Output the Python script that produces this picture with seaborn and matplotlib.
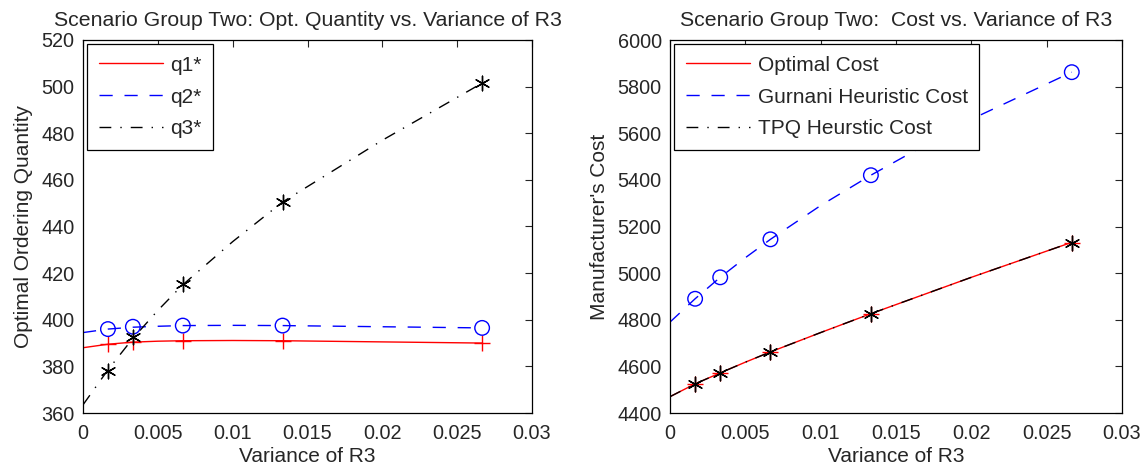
import matplotlib
matplotlib.use("Agg")
import pandas as pd
import seaborn as sns
import matplotlib.pyplot as plt

sns.set_style("white")
plt.rcParams["font.family"] = ["Liberation Sans", "DejaVu Sans"]

# marker positions (variance of R3)
var_pts = [0.001667, 0.003333, 0.006667, 0.013333, 0.026667]
q1_pts = [389.5, 390.5, 391.0, 391.0, 390.0]
q2_pts = [396.0, 397.0, 397.5, 397.5, 396.5]
q3_pts = [378.0, 392.5, 415.5, 450.5, 501.5]
opt_pts = [4525, 4572, 4662, 4826, 5130]
gur_pts = [4890, 4982, 5145, 5420, 5862]
tpq_pts = [4525, 4572, 4662, 4826, 5130]

# fitted curves
var_curve = [0.0, 0.001667, 0.003333, 0.005, 0.006667, 0.01, 0.013333, 0.02, 0.026667]
q1_curve = [388.0, 389.5, 390.4, 390.8, 391.0, 391.1, 391.0, 390.5, 390.0]
q2_curve = [394.5, 396.0, 396.8, 397.2, 397.5, 397.6, 397.5, 397.0, 396.5]
q3_curve = [363.5, 378.5, 392.0, 404.0, 415.0, 433.5, 450.5, 477.0, 501.5]
opt_curve = [4470, 4525, 4572, 4618, 4662, 4745, 4826, 4982, 5132]
gur_curve = [4790, 4890, 4982, 5066, 5145, 5290, 5420, 5660, 5862]
tpq_curve = [4470, 4525, 4572, 4618, 4662, 4745, 4826, 4982, 5132]

fig = plt.figure(figsize=(11.47, 4.73), dpi=100)
W, H = 1147, 473
ax1 = fig.add_axes([83 / W, (H - 413) / H, (532 - 83) / W, (413 - 40) / H])
ax2 = fig.add_axes([670 / W, (H - 413) / H, (1122 - 670) / W, (413 - 40) / H])

tick_fs = 14.3
lab_fs = 15
styles = [("red", None, "+"), ("blue", (9.5, 8.5), "o"), ("black", (8.5, 6.5, 1, 6.5), "*")]


def draw(ax, curves, pts, labels):
    for c, p, lab, (col, dash, mk) in zip(curves, pts, labels, styles):
        sns.lineplot(x=var_curve, y=c, ax=ax, color=col, linewidth=1.0,
                     label=lab, sort=False, estimator=None)
        ln = ax.lines[-1]
        if dash is not None:
            ln.set_dashes(dash)
        if mk == "o":
            sns.scatterplot(x=var_pts, y=p, ax=ax, marker="o", s=110,
                            facecolors="none", edgecolor=col, linewidth=1.0,
                            legend=False, zorder=3)
        elif mk == "+":
            sns.scatterplot(x=var_pts, y=p, ax=ax, marker="+", s=120,
                            color=col, linewidth=1.0, legend=False, zorder=3)
        else:
            sns.scatterplot(x=var_pts, y=p, ax=ax, marker=(6, 2, 0), s=110,
                            color=col, linewidth=1.0, legend=False, zorder=4)


draw(ax1, [q1_curve, q2_curve, q3_curve], [q1_pts, q2_pts, q3_pts],
     ["q1*", "q2*", "q3*"])
draw(ax2, [opt_curve, gur_curve, tpq_curve], [opt_pts, gur_pts, tpq_pts],
     ["Optimal Cost", "Gurnani Heuristic Cost", "TPQ Heurstic Cost"])

ax1.set_ylim(360, 520)
ax1.set_yticks(range(360, 521, 20))
ax2.set_ylim(4400, 6000)
ax2.set_yticks(range(4400, 6001, 200))

xt = [0, 0.005, 0.01, 0.015, 0.02, 0.025, 0.03]
xl = ["0", "0.005", "0.01", "0.015", "0.02", "0.025", "0.03"]
for ax in (ax1, ax2):
    ax.set_xlim(0, 0.03)
    ax.set_xticks(xt)
    ax.set_xticklabels(xl)
    ax.set_xlabel("Variance of R3", fontsize=lab_fs, labelpad=3)
    ax.tick_params(direction="in", length=5, width=0.8, top=True, right=True,
                   labelsize=tick_fs)
    ax.tick_params(axis="x", pad=8)
    ax.tick_params(axis="y", pad=6)
    for s in ax.spines.values():
        s.set_color("black")
        s.set_linewidth(0.9)
    leg = ax.legend(loc="upper left", fontsize=lab_fs, frameon=True, fancybox=False,
                    edgecolor="black", framealpha=1, handlelength=3.1,
                    handletextpad=0.35, borderaxespad=0.2, labelspacing=0.62,
                    borderpad=0.55)
    leg.get_frame().set_linewidth(0.9)

ax1.set_ylabel("Optimal Ordering Quantity", fontsize=lab_fs, labelpad=6)
ax2.set_ylabel("Manufacturer's Cost", fontsize=lab_fs, labelpad=6)
ax1.set_title("Scenario Group Two: Opt. Quantity vs. Variance of R3", fontsize=15.3, pad=10)
ax2.set_title("Scenario Group Two:  Cost vs. Variance of R3", fontsize=15.3, pad=10)

fig.savefig("out.png", dpi=100)
